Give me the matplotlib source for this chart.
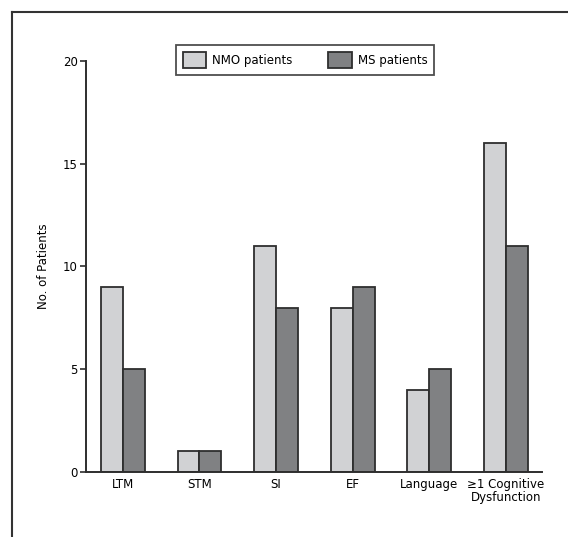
import matplotlib
matplotlib.use("Agg")
import matplotlib.pyplot as plt
import numpy as np
from matplotlib.lines import Line2D

categories = ["LTM", "STM", "SI", "EF", "Language", "\u22651 Cognitive\nDysfunction"]
nmo = [9, 1, 11, 8, 4, 16]
ms = [5, 1, 8, 9, 5, 11]
yticks = [0, 5, 10, 15, 20]

plt.rcParams['font.family'] = ['DejaVu Sans']

fig = plt.figure(figsize=(5.68, 5.37), dpi=100)
ax = fig.add_axes([86/568, 1-472/537, (542-86)/568, (472-61)/537])

x = np.arange(len(categories))
w = 0.285
edge = "#2e2e2e"
ax.bar(x - w/2, nmo, w, color="#d1d2d4", edgecolor=edge, linewidth=1.3, label="NMO patients")
ax.bar(x + w/2, ms, w, color="#808183", edgecolor=edge, linewidth=1.3, label="MS patients")

ax.set_xlim(-0.48, 5.47)
ax.set_ylim(0, 20)
ax.set_yticks(yticks)
ax.set_yticklabels([str(t) for t in yticks], fontsize=8.5)
ax.set_xticks(x)
ax.set_xticklabels(categories, fontsize=8.5, linespacing=1.0)
ax.tick_params(axis='x', length=0, pad=4)
ax.tick_params(axis='y', length=4, width=1.2, direction='out', pad=2, color=edge)
for s in ['top', 'right']:
    ax.spines[s].set_visible(False)
for s in ['left', 'bottom']:
    ax.spines[s].set_linewidth(1.4)
    ax.spines[s].set_color(edge)
ax.set_ylabel("No. of Patients", fontsize=8.5, labelpad=9)

leg = ax.legend(loc='center', bbox_to_anchor=(305/568, 1-60/537), bbox_transform=fig.transFigure,
                ncol=2, frameon=True, fancybox=False, fontsize=8.5, handlelength=2.0,
                handleheight=1.7, columnspacing=3.0, borderpad=0.6, handletextpad=0.5)
leg.get_frame().set_edgecolor("#222222")
leg.get_frame().set_linewidth(1.3)

# outer frame (left and top edges visible)
fig.add_artist(Line2D([12/568, 12/568], [0, 1-12/537], transform=fig.transFigure, color="#333333", linewidth=1.5))
fig.add_artist(Line2D([12/568, 1], [1-12/537, 1-12/537], transform=fig.transFigure, color="#333333", linewidth=1.5))

fig.savefig("out.png", dpi=100)
